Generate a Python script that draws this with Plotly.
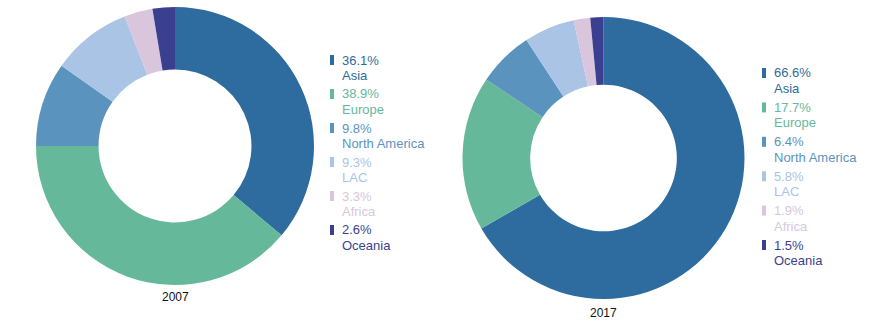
import plotly.graph_objects as go

regions = ["Asia", "Europe", "North America", "LAC", "Africa", "Oceania"]
share_2007 = [36.1, 38.9, 9.8, 9.3, 3.3, 2.6]
share_2017 = [66.6, 17.7, 6.4, 5.8, 1.9, 1.5]
years = ["2007", "2017"]
colors = ["#2E6B9E", "#66B89A", "#5B93BF", "#A9C4E4", "#D9C6DD", "#3B3F8F"]

W, H = 878, 332
def px(x): return x / W
def py(y): return 1 - y / H

fig = go.Figure()
pies = [
    dict(vals=share_2007, dom=dict(x=[px(35), px(315)], y=[py(285), py(7)]), hole=0.55),
    dict(vals=share_2017, dom=dict(x=[px(462), px(745)], y=[py(299), py(17)]), hole=0.52),
]
for p in pies:
    fig.add_trace(go.Pie(
        labels=regions, values=p["vals"], domain=p["dom"], hole=p["hole"],
        sort=False, direction="clockwise", rotation=0,
        marker=dict(colors=colors, line=dict(color="white", width=0)),
        textinfo="none", hoverinfo="label+percent", showlegend=False,
    ))

font = "Liberation Sans, Arial, sans-serif"
# year labels
for yr, (x, y) in zip(years, [(175, 297), (603, 313)]):
    fig.add_annotation(text=yr, x=px(x), y=py(y), xref="paper", yref="paper",
                       showarrow=False, font=dict(family=font, size=12, color="#111"),
                       xanchor="center", yanchor="middle")

# custom legends
legends = [(share_2007, 330, 60, 34.0), (share_2017, 762, 73, 34.4)]
for vals, lx, ly0, step in legends:
    for i, (name, v, c) in enumerate(zip(regions, vals, colors)):
        y = ly0 + i * step
        fig.add_shape(type="rect", xref="paper", yref="paper",
                      x0=px(lx), x1=px(lx + 4), y0=py(y + 5), y1=py(y - 5),
                      fillcolor=c, line=dict(width=0))
        fig.add_annotation(text=f"{v}%", x=px(lx + 10), y=py(y), xref="paper", yref="paper",
                           showarrow=False, xanchor="left", yanchor="middle",
                           font=dict(family=font, size=13, color=c))
        fig.add_annotation(text=name, x=px(lx + 10), y=py(y + 15.5), xref="paper", yref="paper",
                           showarrow=False, xanchor="left", yanchor="middle",
                           font=dict(family=font, size=13, color=c))

fig.update_layout(width=W, height=H, margin=dict(l=0, r=0, t=0, b=0),
                  paper_bgcolor="white", plot_bgcolor="white")
fig.write_html("out.html")
